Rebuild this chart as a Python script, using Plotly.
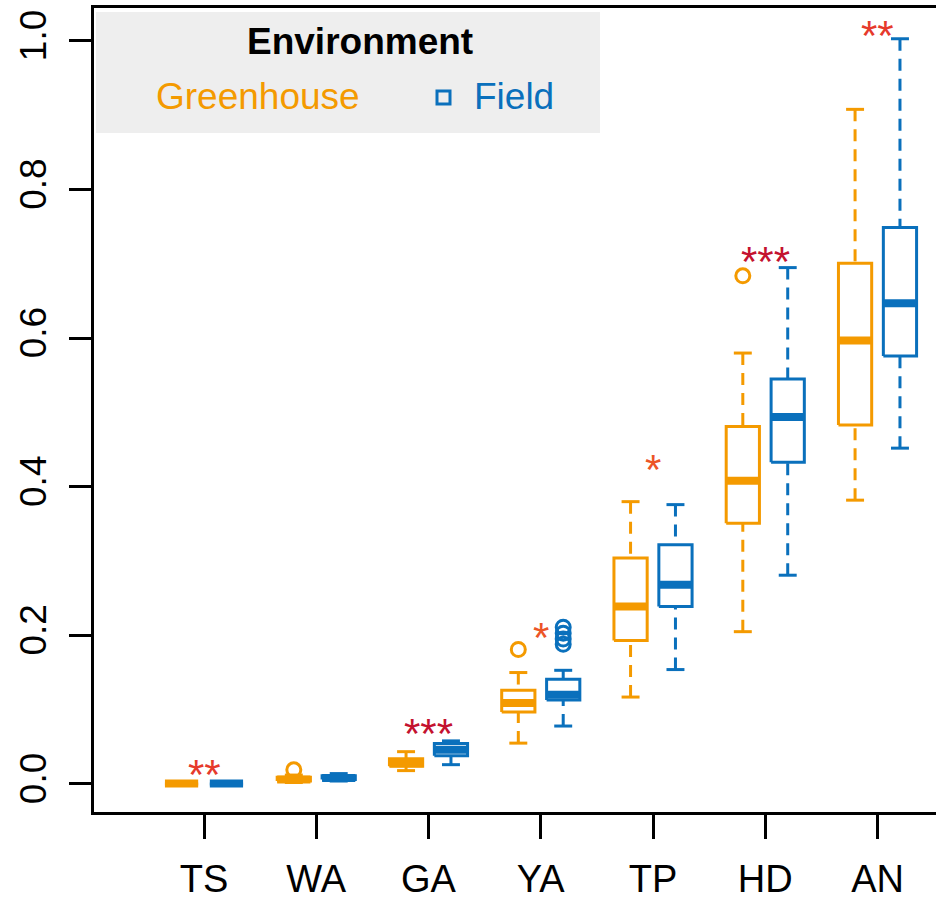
import plotly.graph_objects as go

# ---------------- data ----------------
categories = ["TS", "WA", "GA", "YA", "TP", "HD", "AN"]
positions = [1, 2, 3, 4, 5, 6, 7]

gh_low  = [0.000, 0.002, 0.018, 0.055, 0.117, 0.205, 0.382]
gh_q1   = [0.000, 0.004, 0.024, 0.097, 0.193, 0.351, 0.483]
gh_med  = [0.0005, 0.006, 0.028, 0.109, 0.239, 0.408, 0.597]
gh_q3   = [0.001, 0.009, 0.034, 0.126, 0.304, 0.481, 0.701]
gh_high = [0.002, 0.012, 0.0435, 0.150, 0.380, 0.580, 0.908]
gh_out_cat = ["WA", "YA", "HD"]
gh_out_val = [0.019, 0.181, 0.684]

fd_low  = [0.000, 0.004, 0.026, 0.078, 0.154, 0.281, 0.452]
fd_q1   = [0.000, 0.006, 0.038, 0.113, 0.239, 0.433, 0.576]
fd_med  = [0.0005, 0.008, 0.046, 0.120, 0.268, 0.494, 0.647]
fd_q3   = [0.001, 0.011, 0.0545, 0.141, 0.322, 0.545, 0.749]
fd_high = [0.002, 0.014, 0.058, 0.153, 0.376, 0.695, 1.003]
fd_out_cat = ["YA", "YA", "YA", "YA"]
fd_out_val = [0.211, 0.203, 0.195, 0.188]

star_cat  = ["TS", "GA", "YA", "TP", "HD", "AN"]
star_y    = [0.0202, 0.0754, 0.205, 0.4316, 0.711, 1.0148]
star_text = ["**", "***", "*", "*", "***", "**"]

yticks = [0.0, 0.2, 0.4, 0.6, 0.8, 1.0]
ytick_labels = ["0.0", "0.2", "0.4", "0.6", "0.8", "1.0"]

# ---------------- style ----------------
ORANGE = "#F49A00"
BLUE = "#0A70BC"
STAR_COLORS = {"*": "#EC5527", "**": "#E63A2C", "***": "#C4122F"}
OFFSET = 0.2
HALF_W = 0.148
CAP_W = 0.08
FONT = "Liberation Sans, Arial, Helvetica, sans-serif"

W, H = 936, 900
ML, MR, MT, MB = 94, 0, 8, 88
pos_of = dict(zip(categories, positions))

fig = go.Figure()


def add_series(offset, low, q1, med, q3, high, out_cat, out_val, color, name):
    wx, wy, cx, cy, bx, by, mx, my = [], [], [], [], [], [], [], []
    for p, lo, a, m, b, hi in zip(positions, low, q1, med, q3, high):
        c = p + offset
        wx += [c, c, None, c, c, None]
        wy += [hi, b, None, lo, a, None]
        cx += [c - CAP_W, c + CAP_W, None, c - CAP_W, c + CAP_W, None]
        cy += [hi, hi, None, lo, lo, None]
        bx += [c - HALF_W, c + HALF_W, c + HALF_W, c - HALF_W, c - HALF_W, None]
        by += [a, a, b, b, a, None]
        mx += [c - HALF_W, c + HALF_W, None]
        my += [m, m, None]
    fig.add_trace(go.Scatter(x=wx, y=wy, mode="lines", showlegend=False, hoverinfo="skip",
                             line=dict(color=color, width=3, dash="12px,8px")))
    fig.add_trace(go.Scatter(x=cx, y=cy, mode="lines", showlegend=False, hoverinfo="skip",
                             line=dict(color=color, width=3)))
    fig.add_trace(go.Scatter(x=bx, y=by, mode="lines", showlegend=False, name=name,
                             line=dict(color=color, width=3)))
    fig.add_trace(go.Scatter(x=mx, y=my, mode="lines", showlegend=False, hoverinfo="skip",
                             line=dict(color=color, width=8)))
    fig.add_trace(go.Scatter(x=[pos_of[k] + offset for k in out_cat], y=out_val, mode="markers",
                             showlegend=False,
                             marker=dict(symbol="circle-open", size=14, color=color,
                                         line=dict(width=3, color=color))))


add_series(-OFFSET, gh_low, gh_q1, gh_med, gh_q3, gh_high, gh_out_cat, gh_out_val, ORANGE, "Greenhouse")
add_series(OFFSET, fd_low, fd_q1, fd_med, fd_q3, fd_high, fd_out_cat, fd_out_val, BLUE, "Field")

# significance stars
for k, yv, t in zip(star_cat, star_y, star_text):
    fig.add_annotation(x=pos_of[k], y=yv, text=t, showarrow=False, xanchor="center",
                       yanchor="middle", yshift=-6,
                       font=dict(family=FONT, size=42, color=STAR_COLORS[t]))

# ---------------- legend (layout element, pixel placement) ----------------
PW = W - ML - MR
PH = H - MT - MB


def px(xp):
    return (xp - ML) / PW


def py(yp):
    return (H - MB - yp) / PH


fig.add_shape(type="rect", xref="paper", yref="paper", x0=px(96), x1=px(600), y0=py(133), y1=py(12),
              fillcolor="#EEEEEE", line=dict(width=0), layer="below")
fig.add_annotation(xref="paper", yref="paper", x=px(360), y=py(42), text="<b>Environment</b>",
                   showarrow=False, xanchor="center", yanchor="middle",
                   font=dict(family=FONT, size=37, color="black"))
fig.add_annotation(xref="paper", yref="paper", x=px(154), y=py(97), text="Greenhouse",
                   showarrow=False, xanchor="left", yanchor="middle",
                   font=dict(family=FONT, size=37, color=ORANGE))
fig.add_annotation(xref="paper", yref="paper", x=px(472), y=py(97), text="Field",
                   showarrow=False, xanchor="left", yanchor="middle",
                   font=dict(family=FONT, size=37, color=BLUE))
fig.add_shape(type="rect", xref="paper", yref="paper", x0=px(437), x1=px(450), y0=py(104), y1=py(91),
              fillcolor="rgba(0,0,0,0)", line=dict(color=BLUE, width=3))

fig.update_layout(
    width=W, height=H,
    margin=dict(l=ML, r=MR, t=MT, b=MB, pad=0, autoexpand=False),
    paper_bgcolor="white", plot_bgcolor="white",
    showlegend=False,
    font=dict(family=FONT, color="black"),
)
fig.update_xaxes(range=[0.02, 7.521], tickmode="array", tickvals=positions, ticktext=categories,
                 ticks="outside", ticklen=24, tickwidth=2.5, tickcolor="black",
                 showline=True, linecolor="black", linewidth=2.5, mirror=True,
                 showgrid=False, zeroline=False, ticklabelstandoff=8, automargin=False,
                 tickfont=dict(family=FONT, size=38, color="black"))
fig.update_yaxes(range=[-0.0377, 1.0444], tickmode="array", tickvals=yticks, ticktext=ytick_labels,
                 ticks="outside", ticklen=22, tickwidth=2.5, tickcolor="black",
                 showline=True, linecolor="black", linewidth=2.5, mirror=False,
                 showgrid=False, zeroline=False, tickangle=-90, ticklabelstandoff=8, automargin=False,
                 tickfont=dict(family=FONT, size=37, color="black"))

fig.write_html("out.html")
